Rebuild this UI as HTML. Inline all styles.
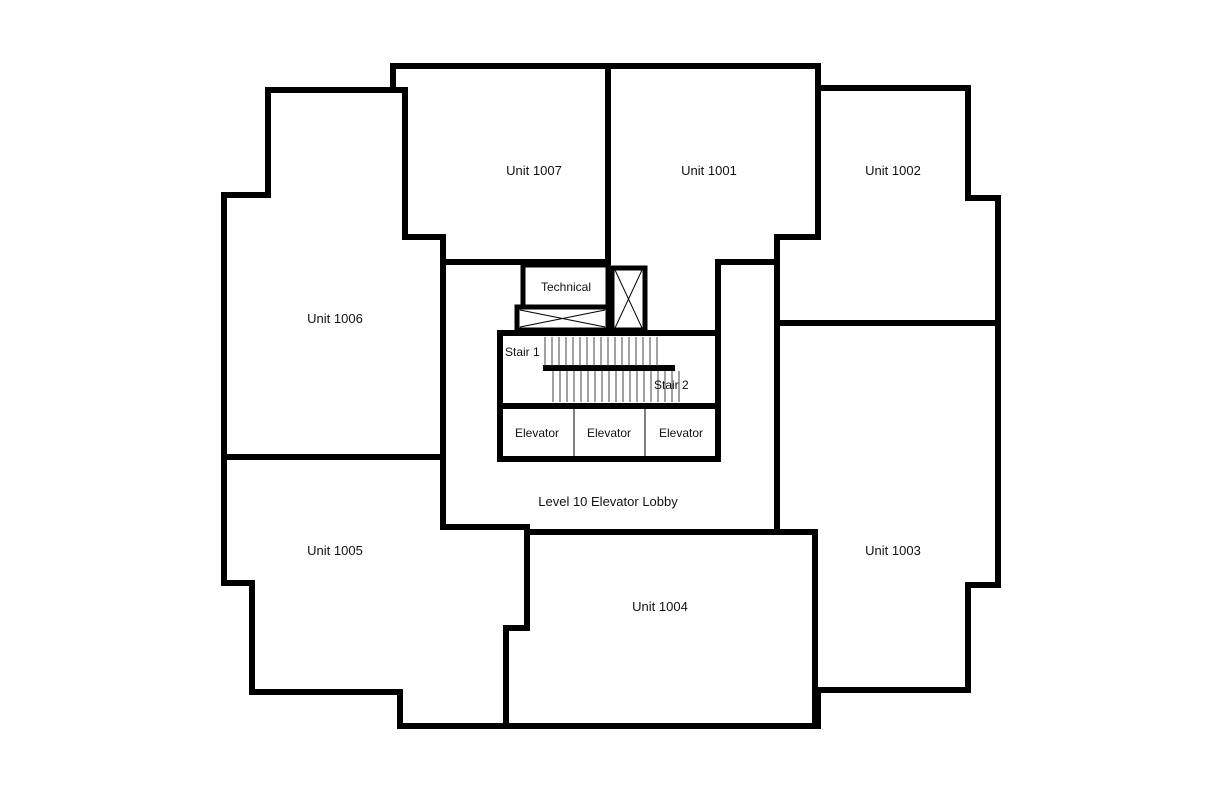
<!DOCTYPE html>
<html><head><meta charset="utf-8"><style>
html,body{margin:0;padding:0;background:#fff;width:1224px;height:792px;overflow:hidden}
text{font-family:"Liberation Sans",sans-serif;font-size:13px;fill:#111}
</style></head><body>
<svg width="1224" height="792" viewBox="0 0 1224 792" xmlns="http://www.w3.org/2000/svg">
<g fill="none" stroke="#000" stroke-width="6" stroke-linejoin="miter" stroke-linecap="square">
<!-- outer outline -->
<polyline points="393,90 393,66 818,66 818,88 968,88 968,198 998,198 998,585 968,585 968,690 818,690 818,726 400,726 400,692 252,692 252,583 224,583 224,195 268,195 268,90 405,90 405,237 443,237 443,527 527,527"/>
<polyline points="818,66 818,237 777,237 777,527"/>
<!-- interior walls -->
<line x1="608" y1="66" x2="608" y2="262"/>
<line x1="443" y1="262" x2="608" y2="262"/>
<polyline points="718,332 718,262 777,262"/>
<line x1="224" y1="457" x2="443" y2="457"/>
<line x1="777" y1="323" x2="998" y2="323"/>
<polyline points="443,527 527,527 527,532 815,532 815,726"/>
<line x1="777" y1="527" x2="777" y2="532"/>
<polyline points="527,532 527,628 506,628 506,726"/>
<!-- core -->
<rect x="523" y="265" width="85" height="42" stroke-width="5"/>
<rect x="612" y="268" width="33" height="62" stroke-width="5"/>
<rect x="517" y="307" width="91" height="23" stroke-width="5"/>
<rect x="500" y="333" width="218" height="73" stroke-width="6"/>
<rect x="500" y="406" width="218" height="53" stroke-width="6"/>
<line x1="546" y1="368" x2="672" y2="368" stroke-width="6"/>
</g>
<g stroke="#000" stroke-width="1">
<line x1="574" y1="408" x2="574" y2="457"/>
<line x1="645" y1="408" x2="645" y2="457"/>
<line x1="615" y1="270" x2="642" y2="328"/><line x1="642" y1="270" x2="615" y2="328"/>
<line x1="520" y1="310" x2="605" y2="327"/><line x1="520" y1="327" x2="605" y2="310"/>
</g>
<g stroke="#444" stroke-width="1">
<path d="M545 337V366M552 337V366M559 337V366M566 337V366M573 337V366M580 337V366M587 337V366M594 337V366M601 337V366M608 337V366M615 337V366M622 337V366M629 337V366M636 337V366M643 337V366M650 337V366M657 337V366"/>
<path d="M553 371V402M560 371V402M567 371V402M574 371V402M581 371V402M588 371V402M595 371V402M602 371V402M609 371V402M616 371V402M623 371V402M630 371V402M637 371V402M644 371V402M651 371V402M658 371V402M665 371V402M672 371V402M679 371V402"/>
</g>
<text x="534" y="175" text-anchor="middle">Unit 1007</text>
<text x="709" y="175" text-anchor="middle">Unit 1001</text>
<text x="893" y="175" text-anchor="middle">Unit 1002</text>
<text x="335" y="323" text-anchor="middle">Unit 1006</text>
<text x="335" y="555" text-anchor="middle">Unit 1005</text>
<text x="893" y="555" text-anchor="middle">Unit 1003</text>
<text x="660" y="611" text-anchor="middle">Unit 1004</text>
<text x="608" y="506" text-anchor="middle">Level 10 Elevator Lobby</text>
<text x="566" y="291" text-anchor="middle" style="font-size:12px">Technical</text>
<text x="505" y="356" style="font-size:12px">Stair 1</text>
<text x="654" y="389" style="font-size:12px">Stair 2</text>
<text x="537" y="437" text-anchor="middle" style="font-size:12px">Elevator</text>
<text x="609" y="437" text-anchor="middle" style="font-size:12px">Elevator</text>
<text x="681" y="437" text-anchor="middle" style="font-size:12px">Elevator</text>
</svg>
</body></html>
